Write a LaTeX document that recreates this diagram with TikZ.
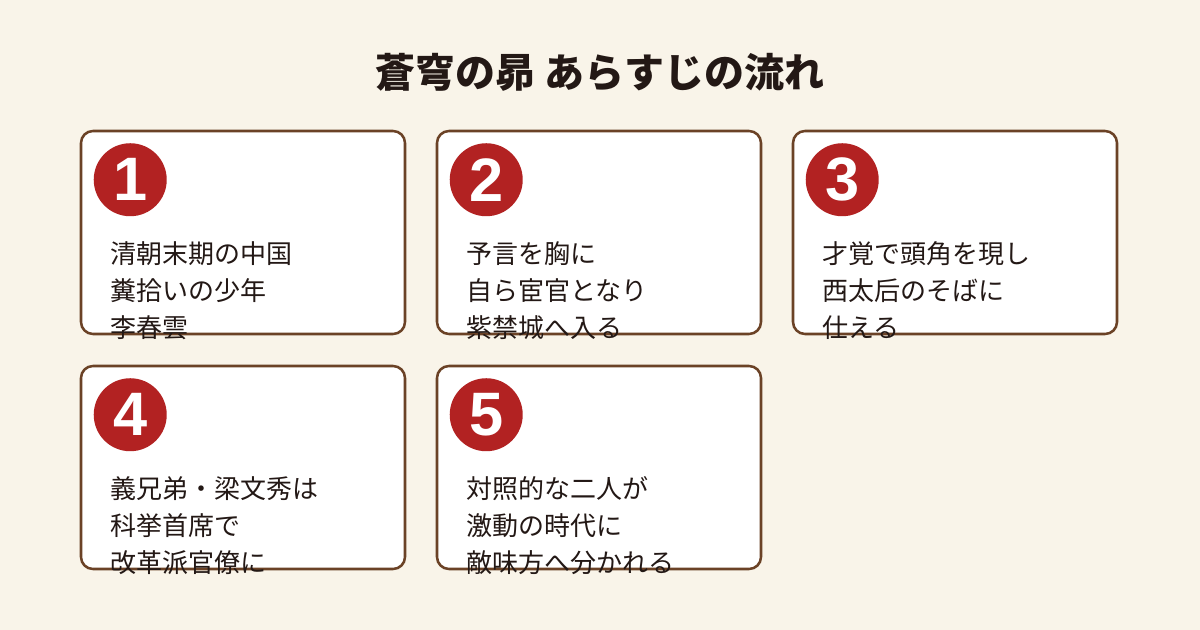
\documentclass[tikz,border=0pt]{standalone}
\usepackage{fontspec}
\setmainfont{Noto Sans CJK JP}
\newfontfamily\numfont{Liberation Sans}
\usetikzlibrary{positioning}
\definecolor{cpaper}{HTML}{F9F4E9}
\definecolor{cbrown}{HTML}{6B4226}
\definecolor{cred}{HTML}{B22222}
\definecolor{cink}{HTML}{231815}
\tikzset{
  every picture/.style={x=0.75pt, y=-0.75pt},
  card/.style={draw=cbrown, fill=white, rounded corners=9pt, line width=1.9pt,
    minimum width=243pt, minimum height=152.25pt, inner sep=0pt},
  badge/.style={circle, fill=cred, text=white, minimum size=54.75pt, inner sep=0pt,
    font=\numfont\bfseries\fontsize{46}{46}\selectfont},
  storytext/.style={anchor=north west, inner sep=0pt, align=left, text=cink,
    font=\fontsize{19.5}{27.5}\selectfont},
  title/.style={font=\fontsize{30}{36}\selectfont\bfseries, text=cink},
}

\begin{document}
\begin{tikzpicture}
  \useasboundingbox (0,0) rectangle (1200,630);
  \fill[cpaper] (0,0) rectangle (1200,630);
  \node[title] (head) at (600,72) {蒼穹の昴 あらすじの流れ};
  % cards
  \foreach \n/\cx/\cy/\txt in {
      1/243/232.5/{清朝末期の中国\\糞拾いの少年\\李春雲},
      2/599/232.5/{予言を胸に\\自ら宦官となり\\紫禁城へ入る},
      3/955/232.5/{才覚で頭角を現し\\西太后のそばに\\仕える},
      4/243/467.5/{義兄弟・梁文秀は\\科挙首席で\\改革派官僚に},
      5/599/467.5/{対照的な二人が\\激動の時代に\\敵味方へ分かれる}} {
    \node[card] (card\n) at (\cx,\cy) {};
    \node[badge] (badge\n) at ([shift={(50.5,50)}]card\n.north west) {\n};
    \node[storytext] (text\n) at ([shift={(30,112)}]card\n.north west) {\txt};
  }
\end{tikzpicture}
\end{document}
